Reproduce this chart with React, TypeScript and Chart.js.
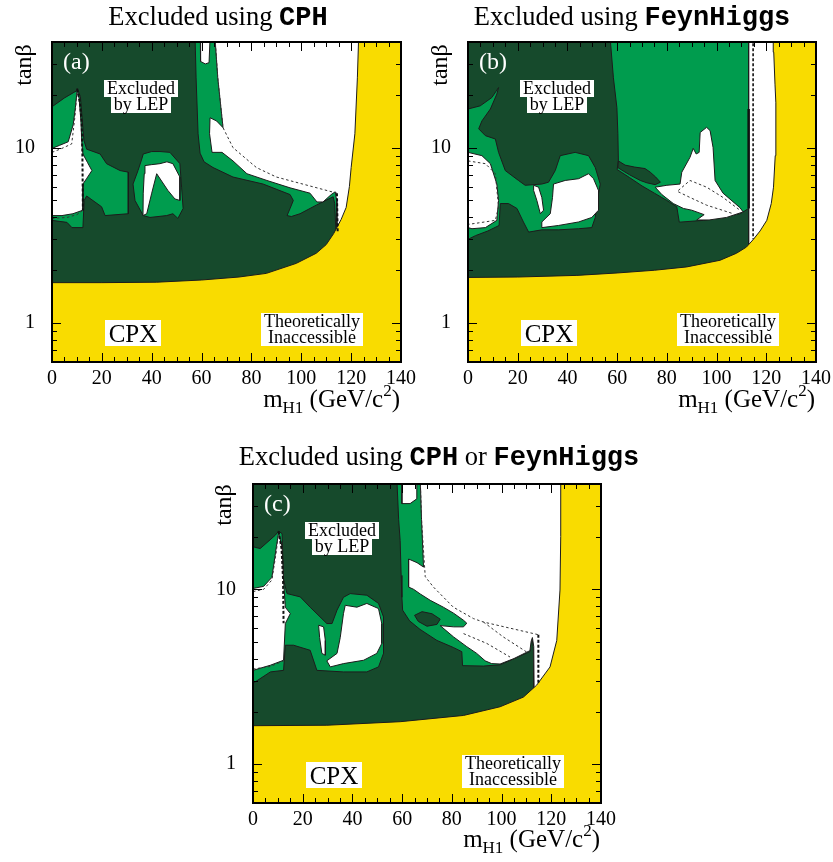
import React, { useEffect, useRef } from 'react';
import { Chart, registerables } from 'chart.js';
Chart.register(...registerables);

type P = [number, number];

// ---------- axes ----------
const X_MIN = 0;
const X_MAX = 140;
const Y_MIN = 0.6;
const Y_MAX = 40;
const X_LABEL_TICKS = [0, 20, 40, 60, 80, 100, 120, 140];
const X_MINOR_TICKS = [5, 10, 15, 25, 30, 35, 45, 50, 55, 65, 70, 75, 85, 90, 95, 105, 110, 115, 125, 130, 135];
const Y_LABEL_TICKS = [1, 10];
const Y_MINOR_TICKS = [0.6, 0.7, 0.8, 0.9, 2, 3, 4, 5, 6, 7, 8, 9, 20, 30, 40];

// ---------- colours ----------
const DARK = '#164a2c';
const LIGHT = '#009c4e';
const YELLOW = '#f9dc00';
const WHITE = '#ffffff';
const EDGE = '#1c1c1c';

const FULL: P[] = [[-2, 0.5], [142, 0.5], [142, 42], [-2, 42]];

// ---------- panel (a) : CPH ----------
const A_THEORY: P[] = [[0, 0.5], [0, 1.7], [20, 1.7], [42, 1.71], [60, 1.76], [75, 1.83], [86, 1.92], [98, 2.19], [106, 2.5], [110, 2.8], [113, 3.24], [116, 3.9], [118, 4.56], [119.3, 6], [120, 7.7], [121.5, 12], [122.5, 25], [123, 42], [142, 42], [142, 0.5]];
const A_LG_LEFT: P[] = [[0, 17.1], [5, 19.2], [9.9, 21.1], [10.1, 21.8], [11.4, 19.5], [12.2, 14], [12.8, 11], [13.9, 9.8], [19.3, 9.2], [21.9, 8.1], [27.3, 7.4], [30.6, 7.25], [30.6, 4.2], [21.3, 4.1], [19.9, 4.6], [13.9, 5.3], [12.9, 5.0], [12.4, 3.5], [8, 3.5], [6, 3.75], [0, 3.85]];
const A_W_LEFT: P[] = [[0, 9.9], [3, 10.3], [6.5, 10.8], [8.5, 13.5], [9.4, 17], [10.1, 21.3], [10.9, 19], [11.6, 14.2], [12, 10.5], [12.4, 9.2], [14.3, 8.2], [16, 7.4], [14, 6.7], [12.4, 6.2], [12.4, 4.4], [8.4, 4.2], [4, 4.1], [0, 4.1]];
const A_LG_MID: P[] = [[36.6, 9.2], [40, 9.5], [43.3, 9.5], [47.3, 9.4], [51.3, 8.1], [52, 5.9], [52.6, 4.5], [50.5, 3.95], [48.5, 4.2], [46, 4.1], [39.3, 4.0], [36.6, 4.1], [33.3, 5.0], [32.5, 6.2], [34.5, 7.4], [36, 8.6]];
const A_W_MID: P[] = [[37.3, 7.9], [40, 8.0], [43.3, 8.1], [46.1, 8.3], [48.5, 8.1], [51.3, 6.8], [51.3, 5.0], [49.3, 5.1], [46.5, 5.7], [42, 7.1], [40, 5.5], [38, 4.2], [36.5, 4.1], [36.6, 5.5], [37, 7.1]];
const A_LG_RIGHT: P[] = [[57.4, 42], [57.8, 25], [58.6, 12], [59.4, 9.3], [61, 8.3], [64.6, 7.7], [72.6, 6.8], [84.7, 6.2], [95.5, 5.4], [96.8, 5.0], [95.5, 4.5], [94.3, 4.1], [96, 4.05], [99.5, 4.2], [106, 4.7], [112.8, 5.25], [113.4, 4.8], [113.9, 3.3], [126, 3.3], [126, 42]];
const A_W_NOTCH: P[] = [[59.5, 42], [59.6, 31], [61.5, 30], [63, 30.5], [63.4, 42]];
const A_W_RIGHT: P[] = [[65.4, 42], [66.5, 25], [68.6, 13], [66, 14.2], [63.4, 14.8], [63.2, 12], [64.2, 9.4], [68.2, 9.4], [72.6, 8.4], [78.2, 7.1], [86.2, 6.5], [95.5, 5.9], [103.5, 5.5], [106.3, 4.9], [108.7, 4.9], [112, 5.4], [113.6, 5.6], [114.2, 5.0], [114.3, 3.3], [126, 3.3], [126, 42]];
const A_DASH_L1: P[] = [[0, 9.4], [4, 9.9], [7.9, 10.5], [9.2, 15], [10.1, 21.6]];
const A_DASH_L2: P[] = [[10.1, 21.6], [11.2, 18], [11.9, 14], [12.2, 9], [12.4, 4.4]];
const A_DASH_L3: P[] = [[0, 3.95], [6, 4.0], [10, 4.15], [12.4, 4.4]];
const A_DASH_R: P[] = [[65.4, 42], [66.5, 25], [68.6, 13], [72.6, 10], [82, 7.7], [90, 6.8], [114.3, 5.5]];
const A_DASH_RV: P[] = [[114.3, 5.5], [114.6, 3.3]];

// ---------- panel (b) : FeynHiggs ----------
const B_THEORY: P[] = [[0, 0.5], [0, 1.82], [20, 1.83], [43.8, 1.87], [60, 1.93], [75, 2.0], [88, 2.09], [101.4, 2.28], [108, 2.5], [112, 2.71], [114.8, 3.0], [117.5, 3.35], [120.2, 3.85], [122, 4.8], [122.9, 5.95], [123.6, 9], [123.9, 12], [123.8, 18], [123.5, 23], [123, 35], [122.8, 42], [142, 42], [142, 0.5]];
const B_LG_LEFT: P[] = [[0, 16.6], [4.9, 17.3], [9.6, 19.3], [12.3, 22], [11.6, 20.2], [9, 16.6], [5.6, 14.2], [4.3, 12.8], [7, 11.7], [11, 11.2], [12.3, 9.4], [15, 7.4], [20.3, 6.5], [23, 6.1], [29.7, 6.2], [32.4, 6.35], [35.1, 7.4], [37.1, 9], [43.1, 9.4], [48.5, 9], [51.2, 7.7], [53.2, 6.2], [51.8, 4.8], [51.2, 4.0], [49.8, 3.5], [44.5, 3.45], [36.4, 3.4], [29.7, 3.4], [24.4, 3.3], [22.3, 3.77], [19.7, 4.5], [16.3, 4.8], [13, 4.8], [12.5, 3.6], [8, 3.35], [3, 3.15], [0, 3.0]];
const B_W_LEFT: P[] = [[0, 9.4], [5.6, 9.0], [9, 8.1], [11.6, 6.2], [12.3, 5.0], [11.6, 3.85], [7, 3.5], [1.6, 3.45], [0, 3.5]];
const B_W_SLIVER: P[] = [[26.4, 6.1], [28.4, 5.95], [29.7, 5.2], [30.4, 4.4], [29.1, 4.2], [27.7, 5.0], [26.4, 5.7]];
const B_W_BLOB: P[] = [[34.4, 6.2], [39.1, 6.5], [44.5, 6.65], [48.5, 7.1], [50.5, 6.65], [52.5, 5.7], [52.5, 4.4], [49.8, 4.0], [44.5, 3.77], [36.4, 3.6], [29.7, 3.5], [29.7, 3.77], [33.1, 4.2], [34, 5.2]];
const B_LG_MAIN: P[] = [[57.2, 42], [58.5, 25], [59.9, 16.9], [60.3, 12], [60.5, 8.4], [60, 7.5], [65, 6.75], [70, 6.05], [75, 5.5], [80, 5.0], [84, 4.6], [85, 3.76], [94.7, 3.85], [109.5, 4.2], [112.9, 4.5], [112.9, 42]];
const B_DARK_BLOB: P[] = [[60.5, 8.4], [63.2, 7.95], [67, 7.75], [71.2, 7.6], [73.3, 7.25], [75.5, 6.8], [77.4, 6.35], [75.3, 6.15], [72, 6.3], [69.3, 6.5], [65, 7.0], [61.5, 7.5], [60.3, 7.7]];
const B_W_MID: P[] = [[75.3, 5.95], [80, 6.1], [85.3, 6.2], [86, 7.24], [89.3, 8.8], [90.6, 9.9], [91.8, 9.2], [93, 9.4], [93.4, 12.2], [96, 13.05], [97.4, 12.5], [98.6, 10], [99.4, 6.5], [102.6, 5.5], [109.4, 4.55], [110.7, 4.3], [104, 4.0], [97, 3.87], [92, 3.87], [95, 4.15], [90, 4.4], [86.7, 4.5], [82.6, 4.8], [78, 5.4]];
const B_W_STRIP: P[] = [[112.9, 42], [112.9, 2.7], [126, 2.7], [126, 42]];
const B_DASH_L: P[] = [[0, 8.4], [7, 8.1], [11, 7.1], [12.3, 4.6], [11, 3.85], [2.9, 3.7], [0, 3.65]];
const B_DASH_M1: P[] = [[84.6, 5.7], [89.3, 6.5], [96, 5.95], [102.6, 5.2], [109.4, 4.4]];
const B_DASH_M2: P[] = [[84.6, 5.6], [89.3, 5.2], [96, 4.7], [106.7, 4.2]];
const B_DASH_V: P[] = [[114.7, 42], [114.7, 3.0]];
const B_LINE_V: P[] = [[112.9, 4.5], [112.9, 16.6]];

// ---------- panel (c) : CPH or FeynHiggs ----------
const C_THEORY: P[] = [[0, 0.5], [0, 1.66], [29.7, 1.67], [59.2, 1.75], [84.7, 1.9], [99.4, 2.13], [108.8, 2.42], [114.1, 2.83], [119.5, 3.6], [122.2, 5.1], [123.5, 9.9], [123.8, 20], [123.8, 42], [142, 42], [142, 0.5]];
const C_LG_LEFT: P[] = [[0, 17.5], [2.9, 17.1], [9, 20.4], [10.3, 21.5], [11.7, 20.8], [12.3, 11.3], [13.7, 9.45], [19, 9.05], [23, 7.9], [29.7, 6.37], [31.8, 6.37], [33.8, 7.6], [36.4, 9.0], [39.1, 9.45], [45.8, 9.25], [50.5, 8.3], [52.5, 6.95], [52.5, 4.3], [50.5, 3.6], [45.8, 3.37], [36.4, 3.37], [25.7, 3.44], [23, 4.48], [16.3, 4.79], [13, 4.79], [12.3, 3.44], [7, 3.37], [0, 2.9]];
const C_W_LEFT: P[] = [[0, 10.1], [4.3, 10.4], [7.6, 11.7], [9.4, 17.5], [10.3, 21], [11.7, 17.5], [12.3, 11.3], [13, 7.9], [15, 7.26], [13, 6.37], [12.3, 3.93], [7, 3.68], [0, 3.44]];
const C_W_SLIVER: P[] = [[26.4, 6.23], [28.4, 6.1], [29.1, 5.1], [29.1, 4.2], [27.7, 4.3], [26.8, 5.3]];
const C_W_BLOB: P[] = [[37.1, 8.1], [41.8, 7.9], [45.8, 8.3], [50.5, 7.76], [51.8, 6.37], [51.8, 4.9], [49.8, 4.3], [44.5, 3.93], [36.4, 3.76], [31.1, 3.6], [29.7, 3.9], [33.8, 4.3], [35.1, 5.3], [36.4, 7.26]];
const C_LG_RIGHT: P[] = [[57.9, 42], [58.6, 25], [59.2, 19], [59.6, 12], [59.9, 9.0], [60.2, 7.6], [63, 6.6], [67.2, 5.9], [74, 5.1], [80.6, 4.65], [84, 4.4], [84.3, 3.66], [92.7, 3.64], [99.4, 3.7], [111.4, 4.4], [111.8, 5.0], [112.3, 5.25], [112.8, 4.6], [113, 2.7], [126, 2.7], [126, 42]];
const C_DARK_BLOB: P[] = [[65, 7.1], [68, 7.45], [72, 7.25], [75.3, 6.75], [74, 6.3], [70, 6.15], [66.5, 6.55]];
const C_W_NOTCH: P[] = [[59.9, 42], [59.9, 30.9], [63.2, 30.9], [65.9, 32.9], [65.9, 42]];
const C_W_RIGHT: P[] = [[67.3, 42], [67.8, 25], [68.6, 13.4], [66, 14.2], [62.6, 14.9], [62.6, 10.3], [64.6, 10], [67.3, 9.4], [71.3, 8.65], [76.6, 7.9], [80.7, 7.3], [84.7, 6.65], [86, 6.4], [84.7, 6.1], [80.7, 6.1], [75.3, 6.2], [80.7, 5.34], [86, 4.7], [90, 4.3], [93.4, 3.9], [96, 3.76], [99.4, 3.74], [105, 4.02], [111.4, 4.46], [111.9, 5.05], [112.4, 5.3], [112.95, 4.7], [113.1, 2.6], [126, 2.6], [126, 42]];
const C_DASH_L1: P[] = [[0, 9.7], [4.3, 10.0], [7.6, 11.3], [9.4, 16.5], [10.3, 21.5]];
const C_DASH_L2: P[] = [[10.3, 21.5], [11.5, 17], [12.1, 11.3], [12.3, 6.4]];
const C_DASH_L3: P[] = [[0, 3.5], [7, 3.62], [12.3, 3.9]];
const C_DASH_R1: P[] = [[67.3, 42], [67.8, 25], [68.9, 14.3], [69.3, 11.8], [72.6, 10.3], [80.6, 7.9], [88.7, 6.8], [92.7, 6.5], [114.8, 5.5]];
const C_DASH_RV: P[] = [[114.8, 5.5], [114.8, 2.85]];
const C_DASH_R2: P[] = [[84.7, 5.58], [94.1, 4.9], [103.4, 4.1]];
const C_DASH_R3: P[] = [[92.7, 6.5], [100.7, 5.34], [110.1, 4.38]];

// ---------- layer lists ----------
type Layer = { pts: P[]; kind: 'fill' | 'line'; color: string; width?: number; dash?: number[]; edge?: boolean };
const F = (pts: P[], color: string, edge = true): Layer => ({ pts, kind: 'fill', color, edge });
const Lf = (pts: P[], width: number, dash: number[], color = '#111'): Layer => ({ pts, kind: 'line', color, width, dash });

const THIN_DASH = [2.5, 2.5];
const THICK_DASH = [3, 2];

const A_LAYERS: Layer[] = [
  F(FULL, DARK, false),
  F(A_LG_LEFT, LIGHT), F(A_W_LEFT, WHITE),
  F(A_LG_MID, LIGHT), F(A_W_MID, WHITE),
  F(A_LG_RIGHT, LIGHT), F(A_W_NOTCH, WHITE), F(A_W_RIGHT, WHITE),
  F(A_THEORY, YELLOW),
  Lf(A_DASH_L1, 1, THIN_DASH, '#333'), Lf(A_DASH_L2, 2, THICK_DASH), Lf(A_DASH_L3, 1, THIN_DASH, '#333'),
  Lf(A_DASH_R, 1, THIN_DASH, '#333'), Lf(A_DASH_RV, 2, THICK_DASH),
];
const B_LAYERS: Layer[] = [
  F(FULL, DARK, false),
  F(B_LG_LEFT, LIGHT), F(B_W_LEFT, WHITE), F(B_W_SLIVER, WHITE), F(B_W_BLOB, WHITE),
  F(B_LG_MAIN, LIGHT), F(B_DARK_BLOB, DARK), F(B_W_MID, WHITE), F(B_W_STRIP, WHITE),
  F(B_THEORY, YELLOW),
  Lf(B_DASH_L, 1, THIN_DASH, '#333'), Lf(B_DASH_M1, 1, THIN_DASH, '#333'), Lf(B_DASH_M2, 1, THIN_DASH, '#333'),
  Lf(B_DASH_V, 1.6, THICK_DASH), Lf(B_LINE_V, 2.5, []),
];
const C_LAYERS: Layer[] = [
  F(FULL, DARK, false),
  F(C_LG_LEFT, LIGHT), F(C_W_LEFT, WHITE), F(C_W_SLIVER, WHITE), F(C_W_BLOB, WHITE),
  F(C_LG_RIGHT, LIGHT), F(C_DARK_BLOB, DARK), F(C_W_NOTCH, WHITE), F(C_W_RIGHT, WHITE),
  F(C_THEORY, YELLOW),
  Lf(C_DASH_L1, 1, THIN_DASH, '#333'), Lf(C_DASH_L2, 2, THICK_DASH), Lf(C_DASH_L3, 1, THIN_DASH, '#333'),
  Lf(C_DASH_R1, 1, THIN_DASH, '#333'), Lf(C_DASH_RV, 2, THICK_DASH),
  Lf(C_DASH_R2, 1, THIN_DASH, '#333'), Lf(C_DASH_R3, 1, THIN_DASH, '#333'),
];

const SERIF = '"Liberation Serif", "Times New Roman", serif';
const MONO = '"Liberation Mono", "Courier New", monospace';

type Part = { t: string; mono?: boolean };
type PanelCfg = {
  key: string; left: number; top: number; w: number; h: number;
  yW: number; padTop: number; padRight: number; xH: number;
  letter: string; title: Part[]; titleX: number; layers: Layer[];
};

const PANELS: PanelCfg[] = [
  { key: 'a', left: 0, top: 0, w: 416, h: 420, yW: 52, padTop: 42, padRight: 15, xH: 58, letter: '(a)', titleX: 218,
    title: [{ t: 'Excluded using ' }, { t: 'CPH', mono: true }], layers: A_LAYERS },
  { key: 'b', left: 416, top: 0, w: 417, h: 420, yW: 52, padTop: 42, padRight: 17, xH: 58, letter: '(b)', titleX: 216,
    title: [{ t: 'Excluded using ' }, { t: 'FeynHiggs', mono: true }], layers: B_LAYERS },
  { key: 'c', left: 200, top: 440, w: 470, h: 422, yW: 53, padTop: 44, padRight: 69, xH: 59, letter: '(c)', titleX: 239,
    title: [{ t: 'Excluded using ' }, { t: 'CPH', mono: true }, { t: ' or ' }, { t: 'FeynHiggs', mono: true }], layers: C_LAYERS },
];

function buildDatasets(layers: Layer[]) {
  const n = layers.length;
  return layers.map((L, i) => {
    const isFill = L.kind === 'fill';
    const pts = L.pts.map(([x, y]) => ({ x, y }));
    if (isFill) pts.push({ x: L.pts[0][0], y: L.pts[0][1] });
    return {
      data: pts,
      order: n - i,
      fill: isFill ? 'shape' : false,
      backgroundColor: L.color,
      borderColor: isFill ? (L.edge ? EDGE : 'rgba(0,0,0,0)') : L.color,
      borderWidth: isFill ? 1 : (L.width || 1),
      borderDash: L.dash || [],
      pointRadius: 0,
      pointHoverRadius: 0,
      tension: 0,
      clip: 0,
    };
  });
}

function drawParts(ctx: CanvasRenderingContext2D, parts: { t: string; font: string; dy?: number }[], x: number, y: number, align: string) {
  let total = 0;
  for (const p of parts) { ctx.font = p.font; total += ctx.measureText(p.t).width; }
  let cx = align === 'center' ? x - total / 2 : align === 'right' ? x - total : x;
  ctx.textAlign = 'left';
  ctx.textBaseline = 'alphabetic';
  for (const p of parts) {
    ctx.font = p.font;
    ctx.fillText(p.t, cx, y + (p.dy || 0));
    cx += ctx.measureText(p.t).width;
  }
}

function decorPlugin(cfg: PanelCfg) {
  return {
    id: 'decor_' + cfg.key,
    afterDraw(chart: any) {
      const ctx: CanvasRenderingContext2D = chart.ctx;
      const xs = chart.scales.x;
      const ys = chart.scales.y;
      const { left, right, top, bottom } = chart.chartArea;
      ctx.save();
      // inward ticks on all four sides
      ctx.strokeStyle = '#000';
      ctx.lineWidth = 1;
      const xt = (v: number, len: number) => {
        const p = Math.round(xs.getPixelForValue(v)) + 0.5;
        ctx.beginPath();
        ctx.moveTo(p, bottom); ctx.lineTo(p, bottom - len);
        ctx.moveTo(p, top); ctx.lineTo(p, top + len);
        ctx.stroke();
      };
      const yt = (v: number, len: number) => {
        const p = Math.round(ys.getPixelForValue(v)) + 0.5;
        ctx.beginPath();
        ctx.moveTo(left, p); ctx.lineTo(left + len, p);
        ctx.moveTo(right, p); ctx.lineTo(right - len, p);
        ctx.stroke();
      };
      X_LABEL_TICKS.forEach(v => xt(v, 9));
      X_MINOR_TICKS.forEach(v => xt(v, 5));
      Y_LABEL_TICKS.forEach(v => yt(v, 9));
      Y_MINOR_TICKS.forEach(v => yt(v, 5));
      // frame
      ctx.lineWidth = 2;
      ctx.strokeRect(left, top, right - left, bottom - top);

      // panel letter
      ctx.fillStyle = '#fff';
      drawParts(ctx, [{ t: cfg.letter, font: `24px ${SERIF}` }], left + 11, top + 27, 'left');

      // Excluded by LEP
      ctx.fillStyle = '#fff';
      ctx.fillRect(left + 52, top + 38, 74, 17);
      ctx.fillRect(left + 59, top + 55, 60, 16);
      ctx.fillStyle = '#000';
      drawParts(ctx, [{ t: 'Excluded', font: `18px ${SERIF}` }], left + 89, top + 52, 'center');
      drawParts(ctx, [{ t: 'by LEP', font: `18px ${SERIF}` }], left + 89, top + 68, 'center');

      // CPX
      ctx.fillStyle = '#fff';
      ctx.fillRect(left + 53, top + 278, 56, 26);
      ctx.fillStyle = '#000';
      drawParts(ctx, [{ t: 'CPX', font: `25px ${SERIF}` }], left + 81, top + 300, 'center');

      // Theoretically Inaccessible
      ctx.fillStyle = '#fff';
      ctx.fillRect(left + 209, top + 271, 102, 33);
      ctx.fillStyle = '#000';
      drawParts(ctx, [{ t: 'Theoretically', font: `18px ${SERIF}` }], left + 260, top + 285, 'center');
      drawParts(ctx, [{ t: 'Inaccessible', font: `18px ${SERIF}` }], left + 260, top + 301, 'center');

      // title
      ctx.fillStyle = '#000';
      drawParts(ctx, cfg.title.map(p => ({ t: p.t, font: p.mono ? `bold 27px ${MONO}` : `26.5px ${SERIF}` })), cfg.titleX, 25, 'center');

      // y axis title
      ctx.save();
      ctx.translate(31, 65);
      ctx.rotate(-Math.PI / 2);
      drawParts(ctx, [{ t: 'tanβ', font: `24px ${SERIF}` }], 0, 0, 'center');
      ctx.restore();

      // x axis title
      drawParts(ctx, [
        { t: 'm', font: `25px ${SERIF}` },
        { t: 'H1', font: `17px ${SERIF}`, dy: 6 },
        { t: ' (GeV/c', font: `25px ${SERIF}` },
        { t: '2', font: `17px ${SERIF}`, dy: -11 },
        { t: ')', font: `25px ${SERIF}` },
      ], right - 1, 407, 'right');
      ctx.restore();
    },
  };
}

function Panel({ cfg }: { cfg: PanelCfg }) {
  const ref = useRef<HTMLCanvasElement | null>(null);
  useEffect(() => {
    const canvas = ref.current;
    if (!canvas) return;
    const chart = new Chart(canvas, {
      type: 'line',
      data: { datasets: buildDatasets(cfg.layers) as any },
      options: {
        animation: false,
        responsive: false,
        maintainAspectRatio: false,
        devicePixelRatio: 1,
        events: [],
        layout: { padding: { left: 0, top: cfg.padTop, right: cfg.padRight, bottom: 0 } },
        elements: { point: { radius: 0 }, line: { tension: 0 } },
        plugins: {
          legend: { display: false },
          tooltip: { enabled: false },
          title: { display: false },
          filler: { propagate: false, drawTime: 'beforeDatasetDraw' },
        },
        scales: {
          x: {
            type: 'linear', min: X_MIN, max: X_MAX,
            grid: { display: false, drawTicks: false },
            border: { display: false },
            afterBuildTicks: (s: any) => { s.ticks = X_LABEL_TICKS.map(v => ({ value: v })); },
            ticks: { padding: 5, color: '#000', font: { family: SERIF, size: 20 }, maxRotation: 0, autoSkip: false, callback: (v: any) => String(v) },
            afterFit: (s: any) => { s.height = cfg.xH; s.paddingLeft = 0; s.paddingRight = 0; },
          },
          y: {
            type: 'logarithmic', min: Y_MIN, max: Y_MAX,
            grid: { display: false, drawTicks: false },
            border: { display: false },
            afterBuildTicks: (s: any) => { s.ticks = Y_LABEL_TICKS.map(v => ({ value: v })); },
            ticks: { padding: 17, color: '#000', font: { family: SERIF, size: 20 }, autoSkip: false, callback: (v: any) => String(v) },
            afterFit: (s: any) => { s.width = cfg.yW; s.paddingTop = 0; s.paddingBottom = 0; },
          },
        },
      } as any,
      plugins: [decorPlugin(cfg)],
    });
    return () => chart.destroy();
  }, [cfg]);
  return (
    <canvas
      ref={ref}
      width={cfg.w}
      height={cfg.h}
      style={{ position: 'absolute', left: cfg.left, top: cfg.top, width: cfg.w, height: cfg.h }}
    />
  );
}

export default function App() {
  return (
    <div style={{ position: 'absolute', left: 0, top: 0, width: 833, height: 862, background: '#fff', overflow: 'hidden' }}>
      {PANELS.map(p => <Panel key={p.key} cfg={p} />)}
    </div>
  );
}
